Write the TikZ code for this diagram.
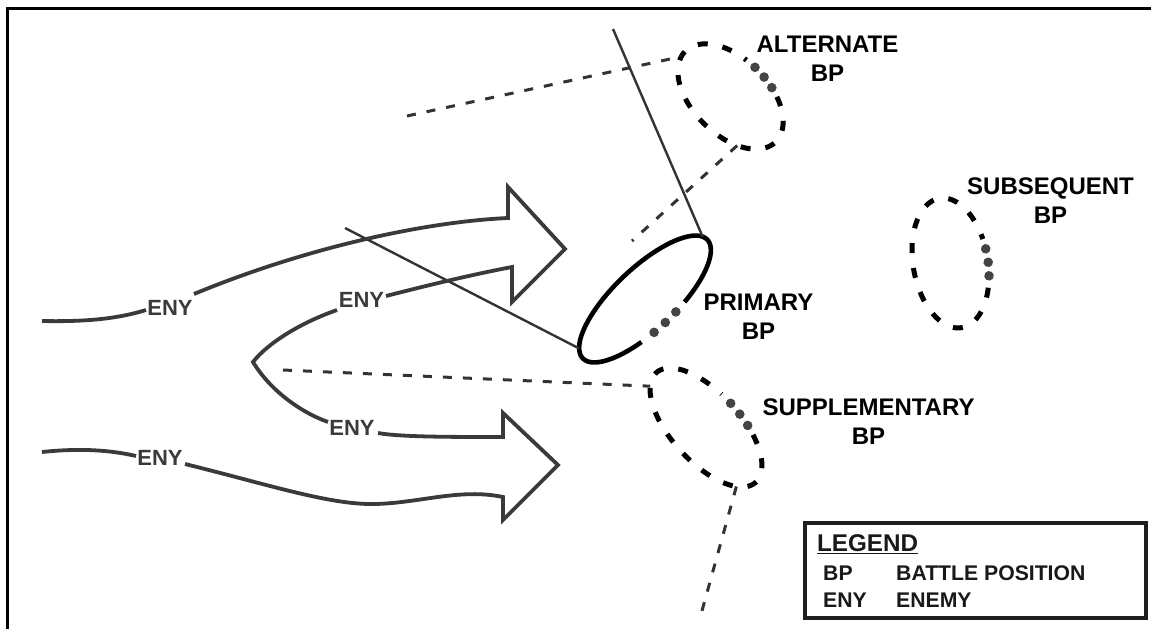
\documentclass[tikz,border=0pt]{standalone}
\usepackage{fontspec}
\setmainfont{Liberation Sans}
\definecolor{enyc}{HTML}{3A3A3A}
\definecolor{linec}{HTML}{333333}
\definecolor{dotc}{HTML}{444444}
\begin{document}
\begin{tikzpicture}[x=1pt,y=-1pt,
  eny/.style={draw=enyc, line width=3.8pt, line join=miter},
  enylab/.style={text=enyc, font=\bfseries\fontsize{22}{26}\selectfont, inner sep=0pt, anchor=base},
  lab/.style={font=\bfseries\fontsize{24}{28.5}\selectfont, inner sep=0pt, anchor=north, align=center},
  legt/.style={text=black!90, font=\bfseries\fontsize{24.2}{28}\selectfont, inner sep=0pt, anchor=base west},
  legr/.style={text=black!90, font=\bfseries\fontsize{21.2}{25}\selectfont, inner sep=0pt, anchor=base west},
  fan/.style={draw=linec, line width=3pt, dash pattern=on 9pt off 11pt},
  bpdash/.style={draw=black, line width=5pt, dash pattern=on 10pt off 15pt},
  sector/.style={draw=linec, line width=2.4pt},
  dot/.style={fill=dotc},
]
\useasboundingbox (0,0) rectangle (1151,629);
\fill[white] (0,0) rectangle (1151,629);
% frame
\draw[line width=3pt, line join=miter] (7.5,629) -- (7.5,8.5) -- (1151,8.5);

% primary BP
\begin{scope}[shift={(645,299)}, rotate=43.6]
  \draw[line width=4.6pt] plot[domain=112:432, samples=160] ({86*cos(\x)},{31*sin(\x)});
  \fill[dot] ({86*cos(81)},{31*sin(81)}) circle[radius=4.8pt]
             ({86*cos(91)},{31*sin(91)}) circle[radius=4.8pt]
             ({86*cos(101)},{31*sin(101)}) circle[radius=4.8pt];
  \coordinate (primTop) at ({86*cos(-10)},{31*sin(-10)});
  \coordinate (primLeft) at ({86*cos(198)},{31*sin(198)});
\end{scope}

% alternate BP
\begin{scope}[shift={(730.5,96.5)}, rotate=-45]
  \draw[bpdash] plot[domain=-59:257, samples=160] ({64*cos(\x)},{38*sin(\x)});
  \fill[dot] ({64*cos(-93)},{38*sin(-93)}) circle[radius=4.8pt]
             ({64*cos(-81)},{38*sin(-81)}) circle[radius=4.8pt]
             ({64*cos(-69)},{38*sin(-69)}) circle[radius=4.8pt];
  \coordinate (altW) at ({64*cos(170)},{38*sin(170)});
  \coordinate (altS) at ({64*cos(52)},{38*sin(52)});
\end{scope}

% subsequent BP
\begin{scope}[shift={(950.5,263)}, rotate=-80.2]
  \draw[bpdash] plot[domain=-62:254, samples=160] ({65.6*cos(\x)},{37.4*sin(\x)});
  \fill[dot] ({65.6*cos(-97)},{37.4*sin(-97)}) circle[radius=4.8pt]
             ({65.6*cos(-85)},{37.4*sin(-85)}) circle[radius=4.8pt]
             ({65.6*cos(-73)},{37.4*sin(-73)}) circle[radius=4.8pt];
\end{scope}

% supplementary BP
\begin{scope}[shift={(706,427.5)}, rotate=-47.7]
  \draw[bpdash] plot[domain=-60:259, samples=160] ({74*cos(\x)},{34.5*sin(\x)});
  \fill[dot] ({74*cos(-91)},{34.5*sin(-91)}) circle[radius=4.8pt]
             ({74*cos(-80)},{34.5*sin(-80)}) circle[radius=4.8pt]
             ({74*cos(-69)},{34.5*sin(-69)}) circle[radius=4.8pt];
  \coordinate (supW) at ({74*cos(157)},{34.5*sin(157)});
  \coordinate (supS) at ({74*cos(30)},{34.5*sin(30)});
\end{scope}

% free ends
\coordinate (d1end) at (407,116);
\coordinate (d2end) at (632,241);
\coordinate (d3end) at (283,370);
\coordinate (d4end) at (700,618);
\coordinate (s1end) at (613,29);
\coordinate (s2end) at (345,228);

% sector lines
\draw[sector] (s1end) -- (primTop);
\draw[sector] (s2end) -- (primLeft);

% dashed fan lines
\draw[fan] (d1end) -- (altW);
\draw[fan] (altS) -- (d2end);
\draw[fan] (d3end) -- (supW);
\draw[fan] (supS) -- (d4end);

% enemy labels
\node[enylab] (eny1) at (170,315) {ENY};
\node[enylab] (eny2) at (361.5,307) {ENY};
\node[enylab] (eny3) at (352,435) {ENY};
\node[enylab] (eny4) at (160,465) {ENY};

% enemy avenues
\draw[eny] (42,321) .. controls (90,322) and (120,318) .. (146,310);
\draw[eny] (194,294) .. controls (300,250) and (420,222) .. (508,218)
   -- (508,187) -- (565,249) -- (512,302) -- (512,267)
   .. controls (470,275) and (425,286) .. (386,296);
\draw[eny] (337,310) .. controls (300,323) and (268,343) .. (253,362)
   .. controls (270,390) and (300,412) .. (328,422);
\draw[eny] (378,433) .. controls (400,437) and (450,437) .. (503,437)
   -- (503,413) -- (558,465) -- (503,520) -- (503,497)
   .. controls (460,488) and (420,503) .. (375,504)
   .. controls (330,505) and (270,485) .. (185,464);
\draw[eny] (42,452) .. controls (80,448) and (110,450) .. (136,456);

% BP labels
\node[lab] (altlab) at (827.5,36) {ALTERNATE\\BP};
\node[lab] (sublab) at (1050.5,178) {SUBSEQUENT\\BP};
\node[lab] (primlab) at (758.5,294) {PRIMARY\\BP};
\node[lab] (suplab) at (868.5,399) {SUPPLEMENTARY\\BP};

% legend
\node[draw=black!88, line width=4pt, minimum width=341pt, minimum height=95.5pt, inner sep=0pt] (legend) at (975.5,570.25) {};
\node[legt] (lg) at (817,551) {LEGEND};
\draw[line width=1.8pt, black!90] ([yshift=-2.5pt]lg.base west) -- ([yshift=-2.5pt]lg.base east);
\node[legr] (bpab) at (823,580) {BP};
\node[legr] (bpdesc) at (896,580) {BATTLE POSITION};
\node[legr] (enyab) at (823,607) {ENY};
\node[legr] (enydesc) at (896,607) {ENEMY};
\end{tikzpicture}
\end{document}
